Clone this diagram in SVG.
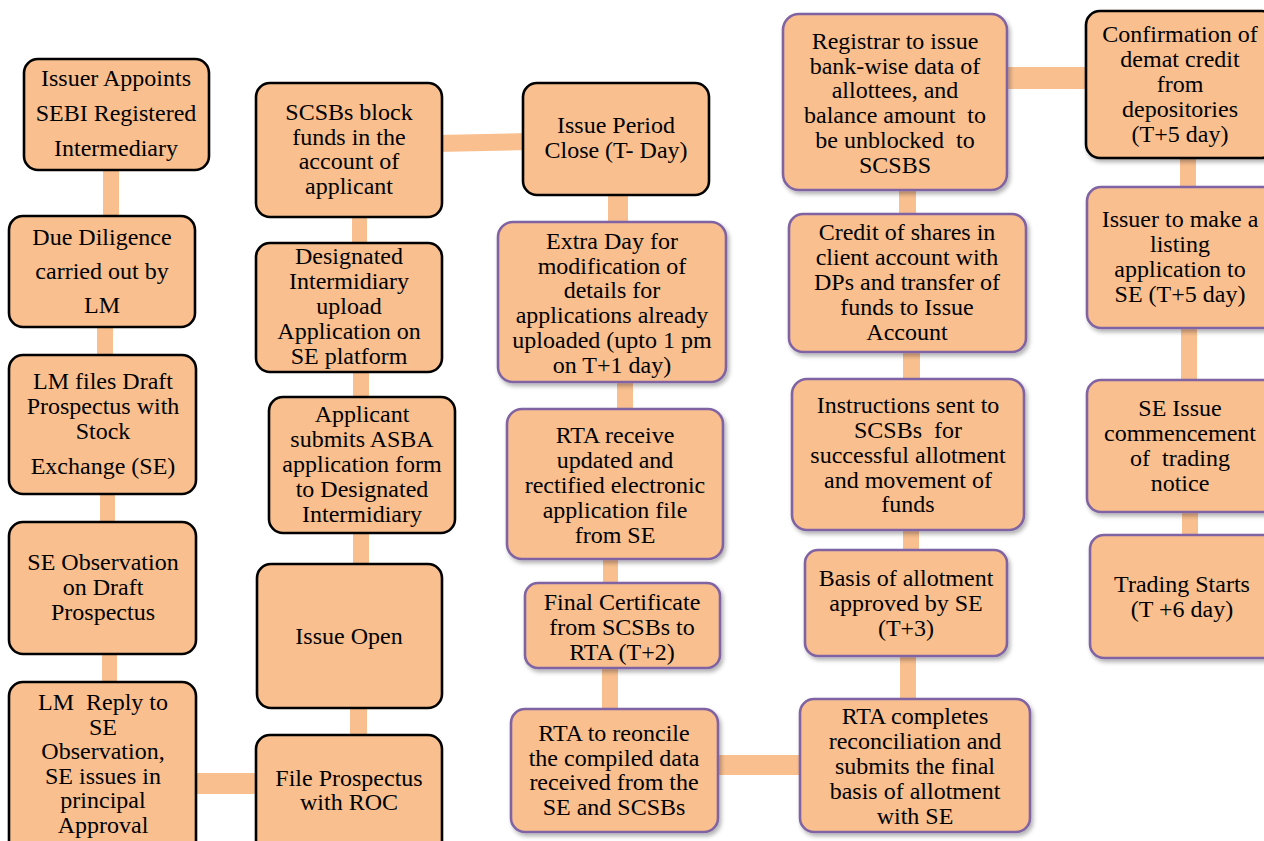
<svg xmlns="http://www.w3.org/2000/svg" width="1264" height="841" viewBox="0 0 1264 841">
<style>
.bx{fill:#F9BF8F;stroke-width:2.6}
.bk{stroke:#000}
.pu{stroke:#8064A2;filter:url(#sh)}
.c{fill:#F9BF8F}
text{font-family:'Liberation Serif','Times New Roman',serif;font-size:24px;fill:#000;text-anchor:middle;white-space:pre}
</style>
<defs>
<filter id="sh" x="-10%" y="-10%" width="130%" height="130%">
<feDropShadow dx="2" dy="3" stdDeviation="2" flood-color="#000" flood-opacity="0.3"/>
</filter>
</defs>
<rect width="1264" height="841" fill="#fff"/>
<g id="connectors">
<rect class="c" x="103" y="165" width="16" height="56"/>
<rect class="c" x="97" y="322" width="16" height="38"/>
<rect class="c" x="100" y="489" width="15" height="38"/>
<rect class="c" x="102" y="649" width="15" height="38"/>
<rect class="c" x="191" y="773" width="70" height="21"/>
<rect class="c" x="350" y="702" width="17" height="38"/>
<rect class="c" x="353" y="528" width="16" height="41"/>
<rect class="c" x="353" y="367" width="16" height="35"/>
<rect class="c" x="352" y="212" width="15" height="36"/>
<polygon class="c" points="437,135 528,133 528,150 437,152"/>
<rect class="c" x="608" y="190" width="20" height="37"/>
<rect class="c" x="617" y="377" width="16" height="37"/>
<rect class="c" x="603" y="554" width="15" height="34"/>
<rect class="c" x="602" y="663" width="16" height="51"/>
<rect class="c" x="713" y="755" width="92" height="20"/>
<rect class="c" x="900" y="651" width="16" height="53"/>
<rect class="c" x="903" y="525" width="16" height="30"/>
<rect class="c" x="903" y="347" width="17" height="37"/>
<rect class="c" x="899" y="185" width="17" height="34"/>
<rect class="c" x="1002" y="67" width="90" height="22"/>
<rect class="c" x="1180" y="153" width="16" height="39"/>
<rect class="c" x="1181" y="323" width="16" height="62"/>
<rect class="c" x="1182" y="507" width="16" height="33"/>
</g>
<g id="nodes">
<g id="n1"><rect class="bx bk" x="24" y="59" width="185" height="111" rx="14"/>
<text x="116" y="86">Issuer Appoints</text><text x="116" y="121">SEBI Registered</text><text x="116" y="156">Intermediary</text></g>
<g id="n2"><rect class="bx bk" x="9" y="216" width="186" height="111" rx="14"/>
<text x="102" y="245">Due Diligence</text><text x="102" y="279">carried out by</text><text x="102" y="313">LM</text></g>
<g id="n3"><rect class="bx bk" x="9" y="355" width="187" height="139" rx="14"/>
<text x="103" y="389">LM files Draft</text><text x="103" y="414">Prospectus with</text><text x="103" y="439">Stock</text><text x="103" y="474">Exchange (SE)</text></g>
<g id="n4"><rect class="bx bk" x="9" y="522" width="187" height="132" rx="14"/>
<text x="103" y="570">SE Observation</text><text x="103" y="595">on Draft</text><text x="103" y="620">Prospectus</text></g>
<g id="n5"><rect class="bx bk" x="9" y="682" width="187" height="175" rx="14"/>
<text x="103" y="710">LM  Reply to</text><text x="103" y="735">SE</text><text x="103" y="759">Observation,</text><text x="103" y="784">SE issues in</text><text x="103" y="808">principal</text><text x="103" y="833">Approval</text></g>
<g id="n6"><rect class="bx bk" x="256" y="735" width="186" height="120" rx="14"/>
<text x="349" y="786">File Prospectus</text><text x="349" y="810">with ROC</text></g>
<g id="n7"><rect class="bx bk" x="257" y="564" width="185" height="144" rx="14"/>
<text x="349" y="644">Issue Open</text></g>
<g id="n8"><rect class="bx bk" x="269" y="397" width="186" height="136" rx="14"/>
<text x="362" y="422">Applicant</text><text x="362" y="447">submits ASBA</text><text x="362" y="472">application form</text><text x="362" y="497">to Designated</text><text x="362" y="522">Intermidiary</text></g>
<g id="n9"><rect class="bx bk" x="256" y="243" width="186" height="129" rx="14"/>
<text x="349" y="264">Designated</text><text x="349" y="289">Intermidiary</text><text x="349" y="314">upload</text><text x="349" y="339">Application on</text><text x="349" y="364">SE platform</text></g>
<g id="n10"><rect class="bx bk" x="256" y="83" width="186" height="134" rx="14"/>
<text x="349" y="120">SCSBs block</text><text x="349" y="145">funds in the</text><text x="349" y="169">account of</text><text x="349" y="194">applicant</text></g>
<g id="n11"><rect class="bx bk" x="523" y="83" width="186" height="112" rx="14"/>
<text x="616" y="133">Issue Period</text><text x="616" y="158">Close (T- Day)</text></g>
<g id="n12"><rect class="bx pu" x="498" y="222" width="228" height="160" rx="15"/>
<text x="612" y="249">Extra Day for</text><text x="612" y="274">modification of</text><text x="612" y="298">details for</text><text x="612" y="323">applications already</text><text x="612" y="348">uploaded (upto 1 pm</text><text x="612" y="373">on T+1 day)</text></g>
<g id="n13"><rect class="bx pu" x="507" y="409" width="216" height="150" rx="15"/>
<text x="615" y="443">RTA receive</text><text x="615" y="468">updated and</text><text x="615" y="493">rectified electronic</text><text x="615" y="518">application file</text><text x="615" y="543">from SE</text></g>
<g id="n14"><rect class="bx pu" x="525" y="583" width="195" height="85" rx="13"/>
<text x="622" y="610">Final Certificate</text><text x="622" y="635">from SCSBs to</text><text x="622" y="660">RTA (T+2)</text></g>
<g id="n15"><rect class="bx pu" x="511" y="709" width="207" height="123" rx="14"/>
<text x="614" y="741">RTA to reoncile</text><text x="614" y="766">the compiled data</text><text x="614" y="790">received from the</text><text x="614" y="815">SE and SCSBs</text></g>
<g id="n16"><rect class="bx pu" x="800" y="699" width="230" height="133" rx="14"/>
<text x="915" y="724">RTA completes</text><text x="915" y="749">reconciliation and</text><text x="915" y="774">submits the final</text><text x="915" y="799">basis of allotment</text><text x="915" y="824">with SE</text></g>
<g id="n17"><rect class="bx pu" x="805" y="550" width="202" height="106" rx="13"/>
<text x="906" y="586">Basis of allotment</text><text x="906" y="611">approved by SE</text><text x="906" y="636">(T+3)</text></g>
<g id="n18"><rect class="bx pu" x="792" y="379" width="232" height="151" rx="15"/>
<text x="908" y="413">Instructions sent to</text><text x="908" y="438">SCSBs  for</text><text x="908" y="463">successful allotment</text><text x="908" y="488">and movement of</text><text x="908" y="512">funds</text></g>
<g id="n19"><rect class="bx pu" x="789" y="214" width="237" height="138" rx="14"/>
<text x="907" y="240">Credit of shares in</text><text x="907" y="265">client account with</text><text x="907" y="290">DPs and transfer of</text><text x="907" y="315">funds to Issue</text><text x="907" y="340">Account</text></g>
<g id="n20"><rect class="bx pu" x="783" y="14" width="224" height="176" rx="16"/>
<text x="895" y="49">Registrar to issue</text><text x="895" y="74">bank-wise data of</text><text x="895" y="98">allottees, and</text><text x="895" y="123">balance amount  to</text><text x="895" y="148">be unblocked  to</text><text x="895" y="173">SCSBS</text></g>
<g id="n21"><rect class="bx bk" x="1086" y="11" width="190" height="147" rx="14" filter="url(#sh)"/>
<text x="1180" y="42">Confirmation of</text><text x="1180" y="67">demat credit</text><text x="1180" y="92">from</text><text x="1180" y="117">depositories</text><text x="1180" y="142">(T+5 day)</text></g>
<g id="n22"><rect class="bx pu" x="1087" y="187" width="190" height="141" rx="14"/>
<text x="1180" y="227">Issuer to make a</text><text x="1180" y="252">listing</text><text x="1180" y="277">application to</text><text x="1180" y="302">SE (T+5 day)</text></g>
<g id="n23"><rect class="bx pu" x="1087" y="380" width="190" height="132" rx="14"/>
<text x="1180" y="416">SE Issue</text><text x="1180" y="441">commencement</text><text x="1180" y="466">of  trading</text><text x="1180" y="491">notice</text></g>
<g id="n24"><rect class="bx pu" x="1090" y="535" width="190" height="123" rx="14"/>
<text x="1182" y="592">Trading Starts</text><text x="1182" y="617">(T +6 day)</text></g>
</g>
</svg>
